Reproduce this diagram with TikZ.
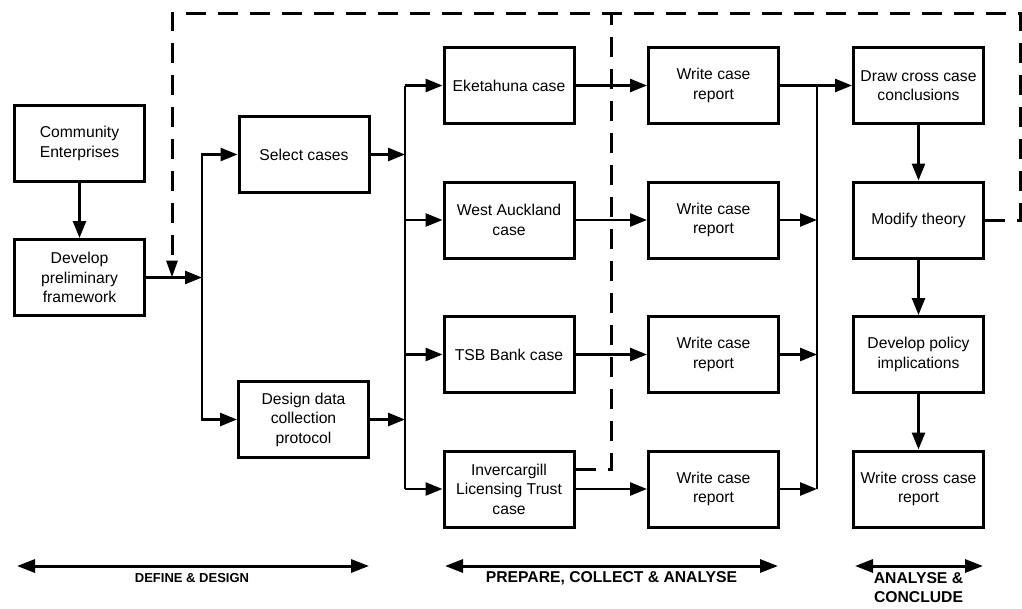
\documentclass[tikz,border=0pt]{standalone}
\usepackage{fontspec}
\setmainfont{Liberation Sans}
\usetikzlibrary{arrows.meta}
\begin{document}
\begin{tikzpicture}[x=1pt,y=-1pt,
  box/.style={draw, line width=3pt, minimum width=130pt, minimum height=76pt,
    inner sep=0pt, align=center, font=\fontsize{15.7}{19.5}\selectfont},
  conn/.style={line width=2.6pt, -{Triangle[length=17pt,width=13pt]}},
  plain/.style={line width=2.6pt},
  fb/.style={line width=3pt, dash pattern=on 20pt off 12pt},
  fbarrow/.style={fb, -{Triangle[length=17pt,width=11pt]}},
  span/.style={line width=3pt, {Triangle[length=18pt,width=13pt]}-{Triangle[length=18pt,width=13pt]}},
  phase/.style={font=\bfseries\fontsize{15.7}{19}\selectfont, align=center},
  phasesmall/.style={font=\bfseries\fontsize{13}{16}\selectfont, align=center}
]
\useasboundingbox (0,0) rectangle (1022,608);

% define & design
\node[box] (ce)  at (79.5,143.5) {Community\\Enterprises};
\node[box] (dpf) at (79.5,277.5) {Develop\\preliminary\\framework};
\node[box] (sel) at (304,154.5) {Select cases};
\node[box] (des) at (303.5,419.5) {Design data\\collection\\protocol};

% cases
\node[box] (eke) at (509,85.5)  {Eketahuna case};
\node[box] (wa)  at (509,220)   {West Auckland\\case};
\node[box] (tsb) at (509,354.5) {TSB Bank case};
\node[box] (inv) at (509,489)   {Invercargill\\Licensing Trust\\case};

% case reports
\node[box] (r1) at (713.5,85.5)  {Write case\\report};
\node[box] (r2) at (713.5,220)   {Write case\\report};
\node[box] (r3) at (713.5,354.5) {Write case\\report};
\node[box] (r4) at (713.5,489)   {Write case\\report};

% analyse & conclude
\node[box] (dcc) at (918.5,85.5)  {Draw cross case\\conclusions};
\node[box] (mod) at (918.5,220)   {Modify theory};
\node[box] (dpi) at (918.5,354.5) {Develop policy\\implications};
\node[box] (wcc) at (918.5,489)   {Write cross case\\report};

% junctions
\coordinate (j1) at (202,277.5);
\coordinate (j2a) at (405,85.5);
\coordinate (j2b) at (405,489);
\coordinate (j3a) at (817,85.5);
\coordinate (j3b) at (817,489);

% feedback loop corners
\coordinate (fR) at (1020,13);
\coordinate (fL) at (172,13);
\coordinate (fM) at (611,13);
\coordinate (fD) at (172,277.5);
\coordinate (fI) at (611,469);

% feedback (dashed)
\draw[fbarrow] (mod.east) -| (fR) -- (fL) -- (fD);
\draw[fb] (fI -| inv.east) -- (fI) -- (fM);

% first stage
\draw[conn] (ce) -- (dpf);
\draw[conn] (dpf) -- (j1);
\draw[conn] (j1) |- (sel.west);
\draw[conn] (j1) |- (des.west);

% fan out to cases
\draw[conn] (sel.east) -- (sel.east -| j2a);
\draw[conn] (des.east) -- (des.east -| j2a);
\draw[plain] (j2a) -- (j2b);
\foreach \c in {eke,wa,tsb,inv}
  \draw[conn] (\c.west -| j2a) -- (\c.west);

% cases to reports
\draw[conn] (eke) -- (r1);
\draw[conn] (wa) -- (r2);
\draw[conn] (tsb) -- (r3);
\draw[conn] (inv) -- (r4);

% reports to cross case analysis
\draw[conn] (r1) -- (dcc);
\draw[plain] (j3a) -- (j3b);
\foreach \r in {r2,r3,r4}
  \draw[conn] (\r.east) -- (\r.east -| j3a);

% conclusion chain
\draw[conn] (dcc) -- (mod);
\draw[conn] (mod) -- (dpi);
\draw[conn] (dpi) -- (wcc);

% phase spans
\coordinate (p1a) at (17,566);  \coordinate (p1b) at (369,566);
\coordinate (p2a) at (445,566); \coordinate (p2b) at (778,566);
\coordinate (p3a) at (855,566); \coordinate (p3b) at (983,566);
\draw[span] (p1a) -- (p1b);
\draw[span] (p2a) -- (p2b);
\draw[span] (p3a) -- (p3b);
\node[phasesmall] (l1) at (192,578) {DEFINE \& DESIGN};
\node[phase] (l2) at (611.5,578) {PREPARE, COLLECT \& ANALYSE};
\node[phase] (l3) at (918.5,588) {ANALYSE \&\\CONCLUDE};
\end{tikzpicture}
\end{document}
